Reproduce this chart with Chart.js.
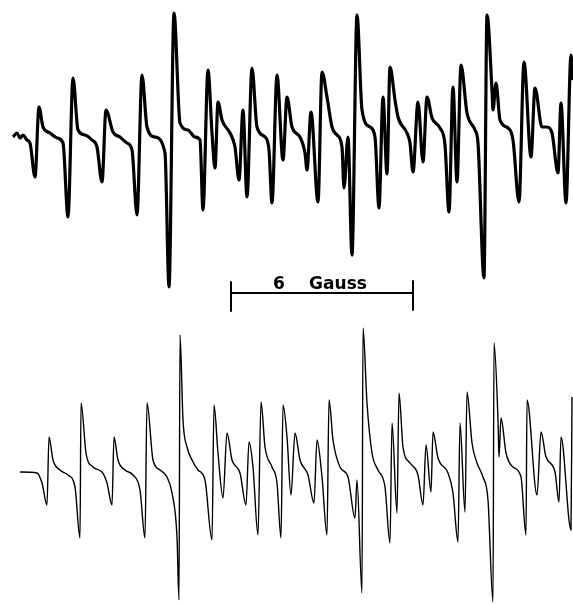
<!DOCTYPE html>
<html>
<head>
<meta charset="utf-8">
<script src="https://cdn.jsdelivr.net/npm/chart.js@4/dist/chart.umd.min.js"></script>
<style>
  html, body { margin: 0; padding: 0; background: #fff; }
  #wrap { width: 573px; height: 604px; }
</style>
</head>
<body>
<div id="wrap"><canvas id="epr" width="573" height="604"></canvas></div>
<script>
// sweep position (a.u.) and derivative signal
const topField = [13,17,20,23,27,30,35,39,43,50,57,63,68,73,78,85,92,97,102,106,113,120,127,132,137,142,147,155,165,169,174,180,188,195,200,203,208,212,215,218,222,230,235,239,243,247,252,257,265,269,272,277,283,287,292,300,305,307,311,318,322,327,332,337,342,344,348,352,357,362,370,375,379,383,387,390,395,398,407,410,413,418,423,427,432,440,445,449,453,457,461,467,475,478,484,487,492,493,496,500,508,513,519,524,531,535,542,547,552,558,561,566,571,573];
const topSignal = [-2,2,-3,0,-5,-8,-42,28,8,2,-3,-8,-82,57,5,0,-5,-12,-47,25,3,-2,-8,-15,-80,60,8,-2,-18,-152,122,12,5,-2,-5,-75,65,2,-33,33,15,2,-12,-45,25,-62,67,8,-2,-15,-68,60,-25,38,8,-2,-18,-35,23,-67,63,38,8,0,-12,-53,-2,-120,120,25,8,-2,-73,38,-39,68,35,18,2,-8,-37,33,-27,38,17,7,-10,-77,48,-47,70,22,5,-8,-143,120,45,25,52,15,7,-5,-67,73,-22,47,8,8,2,-38,32,-68,80,55];

const botField = [20,37,42,47,49,53,60,68,75,80,81,86,93,102,107,112,114,118,125,133,140,145,147,153,160,167,172,177,179,180,183,187,192,198,205,212,214,218,223,227,232,240,246,249,253,258,261,265,272,277,281,283,287,291,295,300,308,314,317,322,327,329,333,340,348,355,357,362,363,367,372,378,385,390,392,397,399,403,410,418,423,426,431,433,438,448,453,458,460,465,467,472,477,483,488,493,494,498,499,501,506,513,521,526,527,537,541,546,555,559,561,571,572];
const botSignal = [0,-1,-11,-33,35,12,2,-3,-15,-66,69,19,5,0,-11,-33,35,12,2,-3,-18,-66,69,12,2,-5,-21,-65,-128,137,52,25,12,2,-8,-68,67,19,-26,39,12,-1,-33,30,5,-63,70,25,5,-11,-66,67,35,-23,39,12,-3,-31,32,-5,-63,72,32,5,-5,-46,-8,-121,144,69,19,2,-15,-71,49,-41,79,25,9,-3,-33,27,-20,40,14,-1,-21,-70,49,-40,80,29,9,-5,-28,-130,129,52,15,54,19,5,-5,-63,72,-23,40,15,0,-30,35,-58,75];

const botOffset = -337;          // lower (simulated) spectrum is shifted down
const scaleStart = 231, scaleEnd = 413;   // 6 G marker, same sweep units
const scaleLevel = -158;
const scaleLabel = ['6', 'Gauss'];

const toPts = (xs, ys, off) => xs.map((x, i) => ({ x: x, y: ys[i] + off }));

// label for the field marker
const markerText = {
    id: 'markerText',
    afterDatasetsDraw(chart) {
        const { ctx, scales } = chart;
        const y = scales.y.getPixelForValue(scaleLevel) - 4;
        ctx.save();
        ctx.fillStyle = '#000';
        ctx.font = 'bold 17px "DejaVu Sans", sans-serif';
        ctx.textBaseline = 'alphabetic';
        ctx.textAlign = 'center';
        ctx.fillText(scaleLabel[0], scales.x.getPixelForValue(279), y);
        ctx.fillText(scaleLabel[1], scales.x.getPixelForValue(338), y);
        ctx.restore();
    }
};

const line = (data, w) => ({
    data: data,
    borderColor: '#000',
    borderWidth: w,
    pointRadius: 0,
    fill: false,
    cubicInterpolationMode: 'monotone',
    borderJoinStyle: 'round'
});

new Chart(document.getElementById('epr').getContext('2d'), {
    type: 'line',
    data: {
        datasets: [
            line(toPts(topField, topSignal, 0), 3.2),
            line(toPts(botField, botSignal, botOffset), 1.4),
            { ...line([{ x: scaleStart, y: scaleLevel }, { x: scaleEnd, y: scaleLevel }], 2), cubicInterpolationMode: 'default', tension: 0 },
            { ...line([{ x: scaleStart, y: scaleLevel + 11 }, { x: scaleStart, y: scaleLevel - 18 }], 2), tension: 0, cubicInterpolationMode: 'default' },
            { ...line([{ x: scaleEnd, y: scaleLevel + 12 }, { x: scaleEnd, y: scaleLevel - 17 }], 2), tension: 0, cubicInterpolationMode: 'default' }
        ]
    },
    options: {
        responsive: false,
        animation: false,
        layout: { padding: 0 },
        plugins: { legend: { display: false }, tooltip: { enabled: false } },
        scales: {
            x: { type: 'linear', min: 0, max: 573, display: false },
            y: { type: 'linear', min: -469, max: 135, display: false }
        }
    },
    plugins: [markerText]
});
</script>
</body>
</html>
